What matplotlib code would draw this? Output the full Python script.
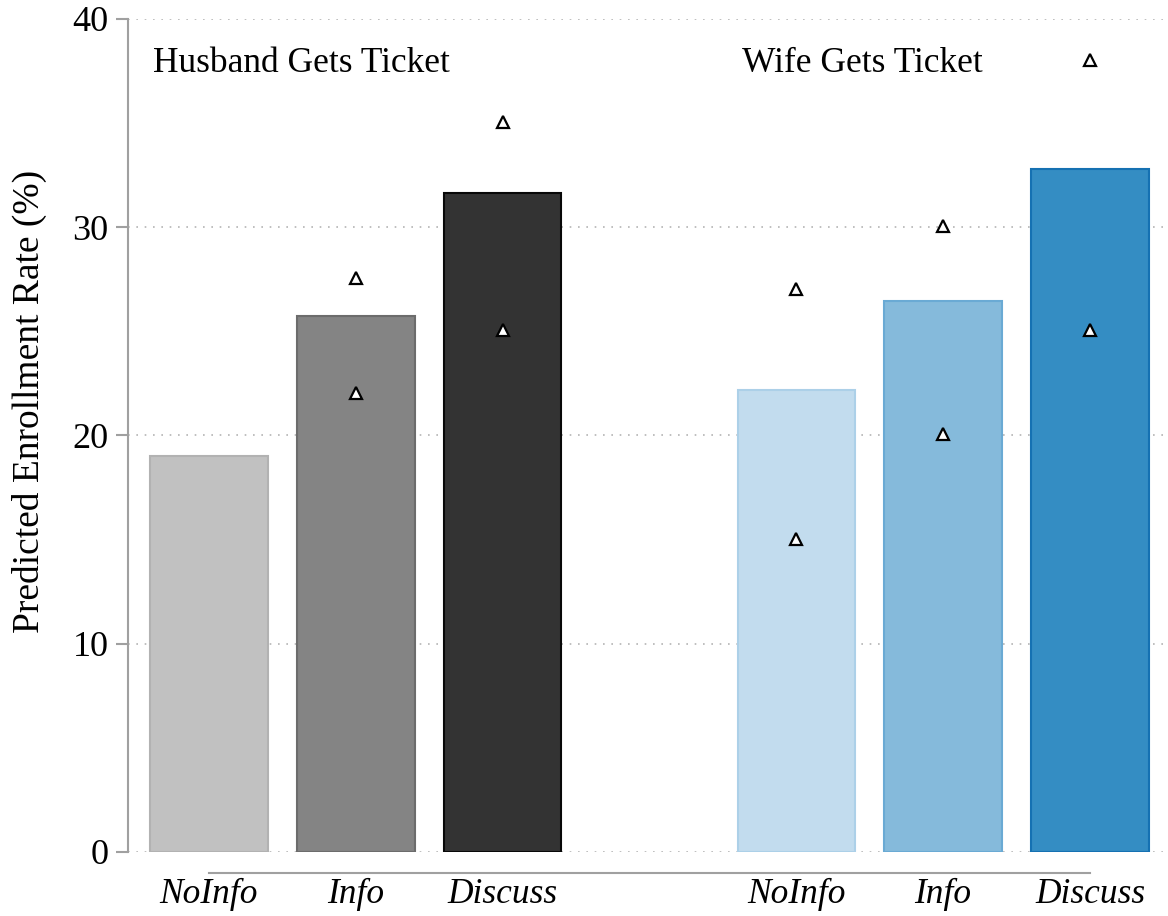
import matplotlib.pyplot as plt
import numpy as np

# dados
categorias = ['NoInfo', 'Info', 'Discuss', 'NoInfo', 'Info', 'Discuss']
posicoes = [0, 1, 2, 4, 5, 6]
taxas = [19.0, 25.75, 31.65, 22.2, 26.45, 32.8]
tri_alto = [np.nan, 27.55, 35.05, 27.05, 30.05, 38.05]
tri_baixo = [np.nan, 22.05, 25.05, 15.05, 20.05, 25.05]
grupos = ['Husband Gets Ticket', 'Wife Gets Ticket']

cores = ['#c1c1c1', '#848484', '#333333', '#c2dcee', '#85badb', '#348dc3']
bordas = ['#b2b2b2', '#6c6c6c', '#080808', '#acd0e8', '#6aaad4', '#1571b2']

plt.rcParams['font.family'] = ['Liberation Serif', 'DejaVu Serif']

fig = plt.figure(figsize=(11.68, 9.16), dpi=100)
ax = fig.add_axes([0.1096, 0.0699, 0.8904, 0.9094])

# barras
ax.bar(posicoes, taxas, width=0.8, color=cores, edgecolor=bordas, linewidth=1.5, zorder=2)

# triangulos
ax.plot(posicoes, tri_alto, linestyle='none', marker='^', markersize=8,
        markerfacecolor='white', markeredgecolor='black', markeredgewidth=1.6, zorder=3)
ax.plot(posicoes, tri_baixo, linestyle='none', marker='^', markersize=8,
        markerfacecolor='white', markeredgecolor='black', markeredgewidth=1.6, zorder=3)

# textos dos grupos
ax.text(-0.38, 37.45, grupos[0], fontsize=25.5, va='baseline', ha='left')
ax.text(3.63, 37.45, grupos[1], fontsize=25.5, va='baseline', ha='left')

ax.set_xlim(-0.551, 6.531)
ax.set_ylim(0, 40)

# eixos (antes dos rotulos: set_position recria os ticks)
ax.spines['top'].set_visible(False)
ax.spines['right'].set_visible(False)
ax.spines['left'].set_color('#a0a0a0')
ax.spines['left'].set_linewidth(1.5)
ax.spines['bottom'].set_color('#a0a0a0')
ax.spines['bottom'].set_linewidth(1.5)
ax.spines['bottom'].set_position(('outward', 15))
ax.spines['bottom'].set_bounds(0, 6)

ax.grid(axis='y', linestyle=(0, (1, 4)), color='#b4b4b4', linewidth=1.2, zorder=0)
ax.set_axisbelow(True)

ax.tick_params(axis='y', labelsize=26, length=9, width=1.5, color='#a0a0a0', pad=5)
ax.tick_params(axis='x', labelsize=25.5, length=0, pad=4)
ax.set_yticks([0, 10, 20, 30, 40])
ax.set_xticks(posicoes, categorias, fontstyle='italic')

ax.set_ylabel('Predicted Enrollment Rate (%)', fontsize=27)
ax.yaxis.set_label_coords(-0.078, 0.541)

fig.savefig('out.png', dpi=100)
